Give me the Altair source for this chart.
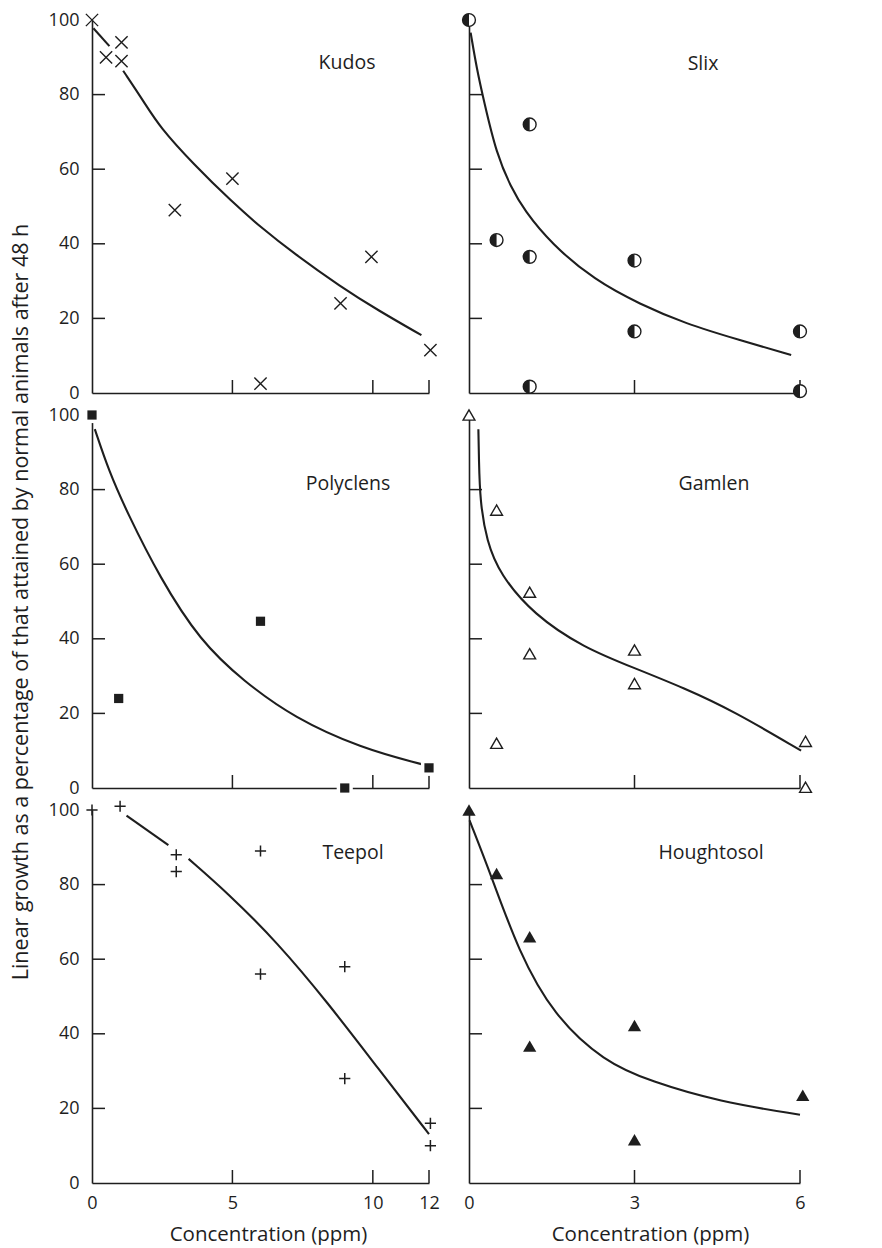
import altair as alt
import pandas as pd

INK = "#1e1e1e"
FONT = "Open Sans"

# ---------------- data ----------------
# Kudos (x marks)
KUDOS_X = [0, 0.5, 1.05, 1.05, 2.95, 5, 6, 8.85, 9.95, 12.05]
KUDOS_Y = [100, 90, 94, 89, 49, 57.5, 2.5, 24, 36.5, 11.5]
KUDOS_CURVE_X = [0.05, 0.62, 1.11, 1.83, 2.42, 3.61, 4.99, 6.0, 7.19, 8.87, 10.18, 11.73]
KUDOS_CURVE_Y = [97.8, 93.0, 86.4, 78.3, 71.2, 61.4, 51.2, 44.5, 37.4, 28.4, 22.2, 15.5]
KUDOS_CURVE_SEG = [0, 0, 1, 1, 1, 1, 1, 1, 1, 1, 1, 1]

# Slix (half-filled circles)
SLIX_X = [0, 1.1, 0.5, 1.1, 3, 3, 1.1, 6, 6]
SLIX_Y = [100, 72, 41, 36.5, 35.5, 16.5, 1.7, 16.5, 0.5]
SLIX_CURVE_X = [0.03, 0.14, 0.27, 0.5, 0.76, 1.0, 1.49, 2.28, 3.1, 3.92, 4.9, 5.84]
SLIX_CURVE_Y = [96.6, 87.0, 78.3, 64.0, 55.2, 49.0, 40.0, 30.2, 23.8, 18.6, 14.2, 10.2]
SLIX_CURVE_SEG = [0] * 12

# Polyclens (filled squares)
POLY_X = [0, 0.95, 6, 9, 12]
POLY_Y = [100, 24, 44.7, 0, 5.4]
POLY_CURVE_X = [0.1, 0.6, 1.23, 2.42, 3.85, 5.4, 7.2, 9.58, 11.73]
POLY_CURVE_Y = [96.2, 85.0, 74.2, 56.3, 39.4, 28.6, 18.8, 10.7, 6.4]
POLY_CURVE_SEG = [0] * 9

# Gamlen (open triangles)
GAML_X = [0, 0.5, 1.1, 1.1, 3, 3, 0.5, 6.1, 6.1]
GAML_Y = [100, 74.5, 52.5, 36, 37, 28, 12, 12.5, 0.2]
GAML_CURVE_X = [0.17, 0.18, 0.2, 0.32, 0.56, 1.17, 2.08, 2.99, 3.9, 4.8, 6.02]
GAML_CURVE_Y = [96.2, 88.0, 76.9, 66.2, 57.3, 46.5, 37.6, 32.2, 26.8, 20.6, 10.0]
GAML_CURVE_SEG = [0] * 11

# Teepol (+ marks)
TEEP_X = [0, 1, 3, 3, 6, 6, 9, 9, 12.05, 12.05]
TEEP_Y = [100, 101, 88, 83.5, 89, 56, 58, 28, 16, 10]
TEEP_CURVE_X = [1.23, 2.72, 3.44, 4.81, 6.6, 8.39, 10.2, 12.0]
TEEP_CURVE_Y = [98.5, 90.6, 86.9, 77.9, 64.5, 48.4, 30.6, 13.1]
TEEP_CURVE_SEG = [0, 0, 1, 1, 1, 1, 1, 1]

# Houghtosol (filled triangles)
HOUG_X = [0, 0.5, 1.1, 1.1, 3, 3, 6.05]
HOUG_Y = [100, 83, 66, 36.7, 42.2, 11.6, 23.5]
HOUG_CURVE_X = [0.01, 0.4, 0.9, 1.53, 2.45, 3.3, 4.53, 6.0]
HOUG_CURVE_Y = [97.2, 82.5, 62.0, 45.0, 32.5, 27.2, 21.8, 18.3]
HOUG_CURVE_SEG = [0] * 8

LEFT_TICKS_X = [5, 10, 12]
RIGHT_TICKS_X = [3, 6]
TICKS_Y = [20, 40, 60, 80]
Y_LABELS = [0, 20, 40, 60, 80, 100]
LEFT_X_LABELS = [0, 5, 10, 12]
RIGHT_X_LABELS = [0, 3, 6]

Y_TITLE = "Linear growth as a percentage of that attained by normal animals after 48 h"
X_TITLE = "Concentration (ppm)"

LW, RW, H = 337, 331, 373


def panel(name, xs, ys, cx, cy, cseg, xmax, width, markers, xticks,
          xlabels, ylabels, bottom, ytitle, label_pos, xtitle_x=None):
    pts = pd.DataFrame({"x": xs, "y": ys})
    curve = pd.DataFrame({"x": cx, "y": cy, "seg": cseg})

    xaxis = alt.Axis(
        values=xlabels, labels=bottom, ticks=False, tickSize=0, grid=False,
        labelFlush=False, labelOverlap=False, labelPadding=11,
        title=X_TITLE if bottom else None, titlePadding=12, titleFontSize=20.5,
        **({"titleX": xtitle_x} if (bottom and xtitle_x is not None) else {}),
    )
    yaxis = alt.Axis(
        values=Y_LABELS, labels=ylabels, ticks=False, tickSize=0, grid=False,
        labelOverlap=False, labelPadding=13,
        title=Y_TITLE if ytitle else None, titlePadding=16, titleFontSize=21.5,
    )
    xenc = alt.X("x:Q", scale=alt.Scale(domain=[0, xmax], nice=False, zero=False), axis=xaxis)
    yenc = alt.Y("y:Q", scale=alt.Scale(domain=[0, 100], nice=False, zero=False), axis=yaxis)

    line = alt.Chart(curve).mark_line(
        color=INK, strokeWidth=2.1, interpolate="basis", clip=False
    ).encode(x=xenc, y=yenc, detail="seg:N")

    yt = alt.Chart(pd.DataFrame({"y": TICKS_Y})).mark_rule(
        color=INK, strokeWidth=1.5
    ).encode(y=yenc, x=alt.value(0), x2=alt.value(13))
    xt = alt.Chart(pd.DataFrame({"x": xticks})).mark_rule(
        color=INK, strokeWidth=1.5
    ).encode(x=xenc, y=alt.value(H), y2=alt.value(H - 13))

    layers = [line, yt, xt]
    for m in markers:
        layers.append(alt.Chart(pts).mark_point(clip=False, opacity=1, **m).encode(x=xenc, y=yenc))

    lab = alt.Chart(pd.DataFrame({"t": [name]})).mark_text(
        font=FONT, fontSize=19.5, color=INK, align="center", baseline="middle"
    ).encode(x=alt.value(label_pos[0]), y=alt.value(label_pos[1]), text="t:N")
    layers.append(lab)
    return alt.layer(*layers).properties(width=width, height=H)


XMARK = [dict(shape="M-1,-1L1,1M-1,1L1,-1", size=150, filled=False, stroke=INK, strokeWidth=1.4)]
HALF = [
    dict(shape="circle", size=165, filled=True, fill="white", stroke=INK, strokeWidth=1.4),
    dict(shape="M0,-1A1,1,0,0,0,0,1Z", size=165, filled=True, fill=INK, strokeWidth=0),
]
SQUARE = [
    dict(shape="square", size=260, filled=True, fill="white", strokeWidth=0),
    dict(shape="square", size=85, filled=True, fill=INK, strokeWidth=0),
]
OPEN_TRI = [dict(shape="triangle-up", size=140, filled=True, fill="white", stroke=INK, strokeWidth=1.4)]
PLUS = [dict(shape="M-1,0L1,0M0,-1L0,1", size=125, filled=False, stroke=INK, strokeWidth=1.5)]
FILL_TRI = [dict(shape="triangle-up", size=175, filled=True, fill=INK, strokeWidth=0)]

kudos = panel("Kudos", KUDOS_X, KUDOS_Y, KUDOS_CURVE_X, KUDOS_CURVE_Y, KUDOS_CURVE_SEG,
              12, LW, XMARK, LEFT_TICKS_X, LEFT_X_LABELS, True, False, False, (255, 43))
poly = panel("Polyclens", POLY_X, POLY_Y, POLY_CURVE_X, POLY_CURVE_Y, POLY_CURVE_SEG,
             12, LW, SQUARE, LEFT_TICKS_X, LEFT_X_LABELS, True, False, True, (256, 69))
teep = panel("Teepol", TEEP_X, TEEP_Y, TEEP_CURVE_X, TEEP_CURVE_Y, TEEP_CURVE_SEG,
             12, LW, PLUS, LEFT_TICKS_X, LEFT_X_LABELS, True, True, False, (261, 43), 176)
slix = panel("Slix", SLIX_X, SLIX_Y, SLIX_CURVE_X, SLIX_CURVE_Y, SLIX_CURVE_SEG,
             6, RW, HALF, RIGHT_TICKS_X, RIGHT_X_LABELS, False, False, False, (234, 44))
gaml = panel("Gamlen", GAML_X, GAML_Y, GAML_CURVE_X, GAML_CURVE_Y, GAML_CURVE_SEG,
             6, RW, OPEN_TRI, RIGHT_TICKS_X, RIGHT_X_LABELS, False, False, False, (245, 69))
houg = panel("Houghtosol", HOUG_X, HOUG_Y, HOUG_CURVE_X, HOUG_CURVE_Y, HOUG_CURVE_SEG,
             6, RW, FILL_TRI, RIGHT_TICKS_X, RIGHT_X_LABELS, False, True, False, (242, 43), 181)

chart = alt.concat(
    kudos, slix, poly, gaml, teep, houg,
    columns=2, spacing={"row": 22, "column": 40}, bounds="flush",
).properties(
    padding={"top": 2, "left": 2, "right": 5, "bottom": 0}
).configure_view(stroke=None).configure_axis(
    domainColor=INK, domainWidth=1.6, labelFont=FONT, labelFontSize=18, labelColor=INK,
    titleFont=FONT, titleFontSize=19, titleFontWeight="normal", titleColor=INK,
)

chart.save("out.html", embed_options={"renderer": "svg", "actions": False})
